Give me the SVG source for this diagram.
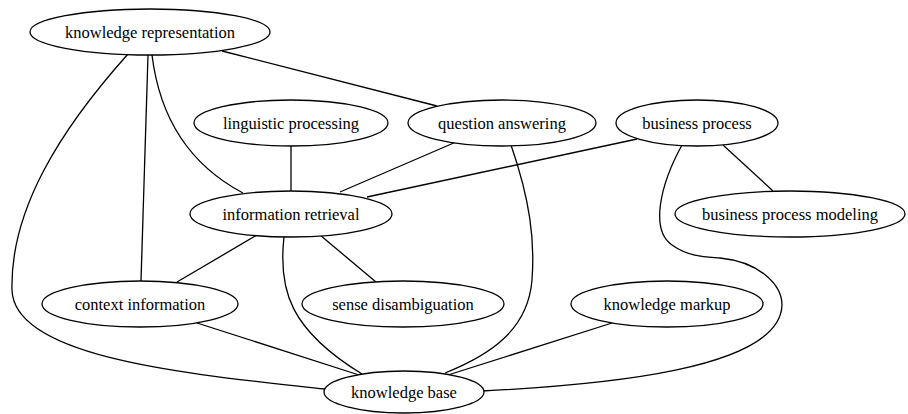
<svg xmlns="http://www.w3.org/2000/svg" width="908" height="414" viewBox="0 0 908 414">
<style>
ellipse{fill:#fff;stroke:#000;stroke-width:1.3}
text{font-family:"Liberation Serif","Times New Roman",serif;font-size:16.5px;fill:#000;text-anchor:middle}
#edges path{fill:none;stroke:#000;stroke-width:1.3}
</style>
<rect width="908" height="414" fill="#fff"/>
<g id="edges">
<path d="M222,51 L437,106"/>
<path d="M128,54 C60,130 10,210 12,290 C14,360 200,375 325,389"/>
<path d="M148,55 L141,281"/>
<path d="M152,55 C160,120 190,165 243,193"/>
<path d="M291,146 L291,191"/>
<path d="M456,142 L340,192"/>
<path d="M637,139 L367,197"/>
<path d="M511,145 C530,200 535,240 532,280 C528,330 490,355 445,373"/>
<path d="M723,145 L773,191"/>
<path d="M682,145 C660,185 650,230 672,245 C690,258 710,257 720,258 C760,262 782,285 782,305 C780,370 600,385 482,391"/>
<path d="M612,323 L448,375"/>
<path d="M257,235 L177,282"/>
<path d="M320,235 L376,282"/>
<path d="M284,237 C278,290 290,330 362,374"/>
<path d="M197,323 L359,375"/>
</g>
<g id="knowledge_representation"><ellipse cx="150" cy="32" rx="120" ry="23"/><text x="150" y="38">knowledge representation</text></g>
<g id="linguistic_processing"><ellipse cx="291" cy="123" rx="97" ry="23"/><text x="291" y="129">linguistic processing</text></g>
<g id="question_answering"><ellipse cx="502" cy="123" rx="94" ry="23"/><text x="502" y="129">question answering</text></g>
<g id="business_process"><ellipse cx="697" cy="123" rx="81" ry="23"/><text x="697" y="129">business process</text></g>
<g id="information_retrieval"><ellipse cx="291" cy="214" rx="101" ry="23"/><text x="291" y="220">information retrieval</text></g>
<g id="business_process_modeling"><ellipse cx="790" cy="214" rx="115" ry="23"/><text x="790" y="220">business process modeling</text></g>
<g id="context_information"><ellipse cx="140" cy="304" rx="98" ry="23"/><text x="140" y="310">context information</text></g>
<g id="sense_disambiguation"><ellipse cx="403" cy="304" rx="101" ry="23"/><text x="403" y="310">sense disambiguation</text></g>
<g id="knowledge_markup"><ellipse cx="667" cy="304" rx="96" ry="23"/><text x="667" y="310">knowledge markup</text></g>
<g id="knowledge_base"><ellipse cx="404" cy="392" rx="80" ry="21"/><text x="404" y="398">knowledge base</text></g>
</svg>
